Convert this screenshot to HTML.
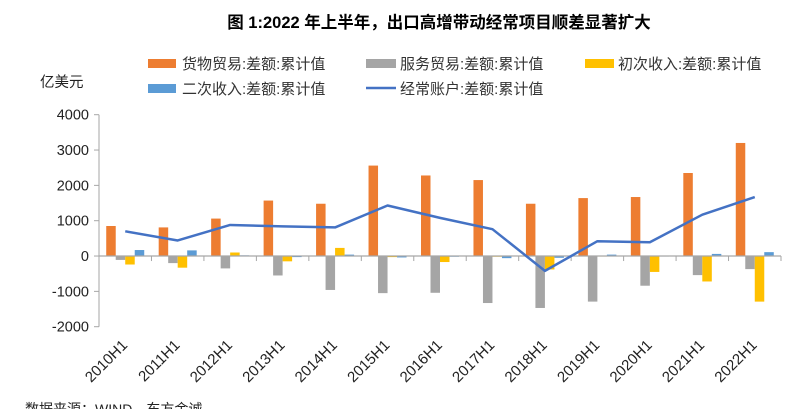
<!DOCTYPE html>
<html><head><meta charset="utf-8"><style>
body{margin:0;background:#fff;width:793px;height:409px;overflow:hidden;font-family:"Liberation Sans","Noto Sans CJK SC",sans-serif;}
svg text{font-family:"Liberation Sans","Noto Sans CJK SC",sans-serif;}
</style></head><body>
<svg id="chart" width="793" height="409" viewBox="0 0 793 409">
<text x="439" y="28" text-anchor="middle" font-size="16.5" font-weight="bold" fill="#000">图 1:2022 年上半年，出口高增带动经常项目顺差显著扩大</text>
<text x="40" y="87" font-size="14.5" fill="#222">亿美元</text>
<g font-size="15" fill="#333">
<rect x="148" y="59" width="28" height="9" fill="#ED7D31"/>
<text x="182" y="69">货物贸易:差额:累计值</text>
<rect x="366" y="59" width="30" height="9" fill="#A5A5A5"/>
<text x="400" y="69">服务贸易:差额:累计值</text>
<rect x="585" y="59" width="29" height="9" fill="#FFC000"/>
<text x="618" y="69">初次收入:差额:累计值</text>
<rect x="148" y="84" width="28" height="9" fill="#5B9BD5"/>
<text x="182" y="94">二次收入:差额:累计值</text>
<line x1="366" y1="88" x2="396" y2="88" stroke="#4472C4" stroke-width="2.5"/>
<text x="400" y="94">经常账户:差额:累计值</text>
</g>
<g id="plot"></g>
<text x="25" y="414" font-size="14" fill="#222">数据来源：WIND，东方金诚</text>
</svg>
<script>
const categories=["2010H1","2011H1","2012H1","2013H1","2014H1","2015H1","2016H1","2017H1","2018H1","2019H1","2020H1","2021H1","2022H1"];
const goods=[850,810,1060,1570,1480,2560,2280,2150,1480,1640,1670,2350,3200];
const services=[-110,-200,-350,-550,-960,-1050,-1040,-1330,-1470,-1290,-840,-540,-370];
const primary=[-240,-330,100,-150,230,-30,-170,-20,-380,0,-450,-720,-1290];
const secondary=[170,160,20,-30,40,-40,-20,-60,-50,40,0,60,110];
const current=[700,440,880,840,810,1430,1080,760,-420,420,390,1170,1670];
const yTicks=[4000,3000,2000,1000,0,-1000,-2000];
const NS="http://www.w3.org/2000/svg";
const g=document.getElementById('plot');
const x0=99,x1=781,yTop=114.7,yBot=326.7,vMax=4000,vMin=-2000;
const band=(x1-x0)/categories.length;
function y(v){return yTop+(vMax-v)/(vMax-vMin)*(yBot-yTop);}
function cx(i){return x0+band*(i+0.5);}
function mk(t,a){const e=document.createElementNS(NS,t);for(const k in a)e.setAttribute(k,a[k]);g.appendChild(e);return e;}
let ax=mk('line',{x1:x0,y1:yTop,x2:x0,y2:yBot,stroke:'#A6A6A6','stroke-width':1});


yTicks.forEach(v=>{
  let t=mk('line',{x1:x0-5,y1:y(v),x2:x0,y2:y(v),stroke:'#A6A6A6'});
  
  
  let l=mk('text',{x:x0-10,y:y(v)+5,'text-anchor':'end','font-size':14.5,fill:'#222'});
  l.textContent=v;
  
  
});
const bw=9.5;
const series=[[goods,'#ED7D31','goods'],[services,'#A5A5A5','services'],[primary,'#FFC000','primary'],[secondary,'#5B9BD5','secondary']];
categories.forEach((c,i)=>{
  series.forEach((s,k)=>{
    const v=s[0][i];const bx=cx(i)-2*bw+k*bw;
    const r=mk('rect',{x:bx,y:Math.min(y(v),y(0)),width:bw,height:Math.max(Math.abs(y(v)-y(0)),0.5),fill:s[1]});
    
    
  });
});
let xa=mk('line',{x1:x0,y1:y(0),x2:x1,y2:y(0),stroke:'#A6A6A6','stroke-width':1.2});


for(let i=0;i<=categories.length;i++){
  let t=mk('line',{x1:x0+band*i,y1:y(0),x2:x0+band*i,y2:y(0)+5,stroke:'#A6A6A6'});
  
  
}
categories.forEach((c,i)=>{
  const tx=cx(i)+3,ty=346;
  let l=mk('text',{x:tx,y:ty,'text-anchor':'end','font-size':15,fill:'#222',transform:`rotate(-45 ${tx} ${ty})`});
  l.textContent=c;
  
  
});
let pl=mk('polyline',{points:current.map((v,i)=>cx(i)+','+y(v)).join(' '),fill:'none',stroke:'#4472C4','stroke-width':2.5,'stroke-linejoin':'round'});


</script>
</body></html>
